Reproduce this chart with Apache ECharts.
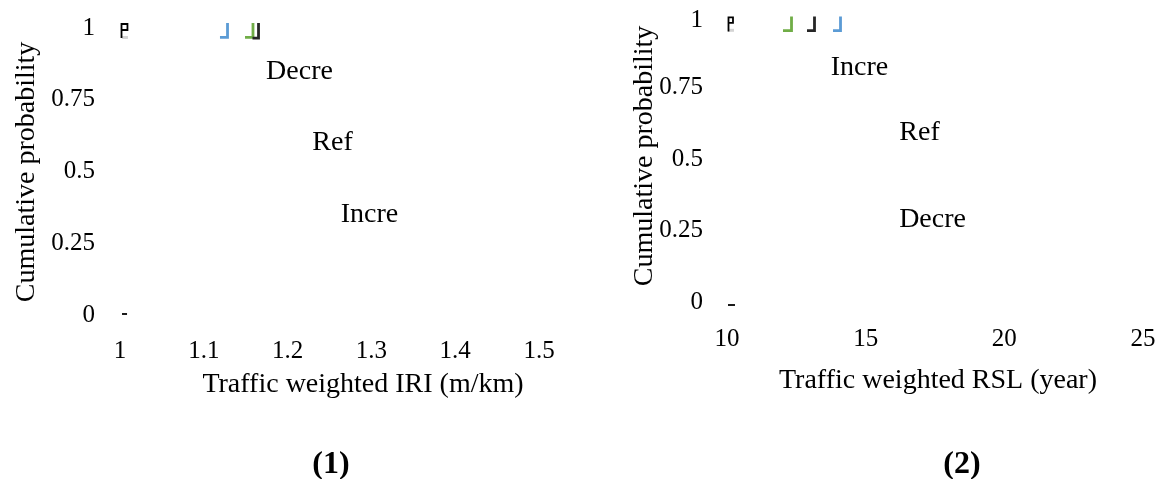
<!DOCTYPE html>
<html>
<head>
<meta charset="utf-8">
<script src="https://cdn.jsdelivr.net/npm/echarts@6/dist/echarts.min.js"></script>
<style>
  html, body { margin: 0; padding: 0; background: #ffffff; }
  #chart { width: 1170px; height: 479px; }
</style>
</head>
<body>
<div id="chart"></div>
<script>
// ---- Panel (1): traffic weighted IRI ----
const iriStart = [[1.0018, 0.965], [1.0018, 1.014], [1.0089, 1.014], [1.0089, 0.993], [1.0018, 0.993]];
const iriStartShade = [[1.0024, 0.967], [1.0095, 0.967]];
const iriZero = [[1.0024, 0.0035], [1.0084, 0.0035]];
const iriIncre = [[1.1193, 0.967], [1.1283, 0.967], [1.1283, 1.017]];
const iriRef = [[1.1492, 0.967], [1.1587, 0.967], [1.1587, 1.017]];
const iriDecre = [[1.1581, 0.965], [1.1653, 0.965], [1.1653, 1.017]];
const iriNotes = [
  { name: 'Decre', value: [1.2148, 0.847] },
  { name: 'Ref', value: [1.2542, 0.599] },
  { name: 'Incre', value: [1.2983, 0.348] }
];

// ---- Panel (2): traffic weighted RSL ----
const rslStart = [[10.054, 0.946], [10.054, 0.995], [10.216, 0.995], [10.216, 0.976], [10.054, 0.976]];
const rslStartShade = [[10.036, 0.95], [10.252, 0.95]];
const rslZero = [[10.036, -0.0105], [10.288, -0.0105]];
const rslRef = [[12.019, 0.949], [12.326, 0.949], [12.326, 0.998]];
const rslDecre = [[12.885, 0.949], [13.155, 0.949], [13.155, 0.998]];
const rslIncre = [[13.823, 0.949], [14.093, 0.949], [14.093, 0.998]];
const rslNotes = [
  { name: 'Incre', value: [14.796, 0.818] },
  { name: 'Ref', value: [16.96, 0.591] },
  { name: 'Decre', value: [17.43, 0.287] }
];

const probTicks = { min: 0, max: 1, interval: 0.25 };

const FONT = '"Liberation Serif", "Times New Roman", serif';
const BLUE = '#5b9bd5';
const GREEN = '#70ad47';
const DARK = '#262626';

function trace(data, color, idx, width) {
  return {
    type: 'line', data: data, xAxisIndex: idx, yAxisIndex: idx,
    symbol: 'none', clip: false, silent: true,
    lineStyle: { color: color, width: width || 2.8, cap: 'butt', join: 'miter' }
  };
}

function notes(data, idx) {
  return {
    type: 'scatter', data: data, xAxisIndex: idx, yAxisIndex: idx,
    symbolSize: 1, silent: true,
    itemStyle: { opacity: 0 },
    label: {
      show: true, position: [0, 0], align: 'center', verticalAlign: 'middle',
      formatter: '{b}', color: '#000000', opacity: 1,
      fontFamily: FONT, fontSize: 28, textBorderWidth: 0
    }
  };
}

const axisText = { color: '#000000', fontFamily: FONT, fontSize: 25 };

function valueAxis(extra) {
  return Object.assign({
    type: 'value',
    axisLine: { show: false }, axisTick: { show: false }, splitLine: { show: false }
  }, extra);
}

const chart = echarts.init(document.getElementById('chart'), null, { renderer: 'canvas' });
chart.setOption({
  backgroundColor: '#ffffff',
  animation: false,
  grid: [
    { left: 120, top: 28, width: 419, height: 287 },
    { left: 727, top: 16, width: 416, height: 286 }
  ],
  xAxis: [
    valueAxis({ gridIndex: 0, min: 1, max: 1.5, interval: 0.1,
      axisLabel: Object.assign({ margin: 24, formatter: v => String(+v.toFixed(1)) }, axisText) }),
    valueAxis({ gridIndex: 1, min: 10, max: 25, interval: 5,
      axisLabel: Object.assign({ margin: 25 }, axisText) })
  ],
  yAxis: [
    valueAxis(Object.assign({ gridIndex: 0, axisLabel: Object.assign({ margin: 25 }, axisText) }, probTicks)),
    valueAxis(Object.assign({ gridIndex: 1, axisLabel: Object.assign({
      margin: 24,
      formatter: v => (v === 1 ? '{top|1}' : String(v)),
      rich: { top: { color: '#000000', fontFamily: FONT, fontSize: 25, padding: [9, 0, 0, 0] } }
    }, axisText) }, probTicks))
  ],
  graphic: [
    { type: 'text', x: 363, y: 385, silent: true,
      style: { text: 'Traffic weighted IRI (m/km)', fill: '#000', font: '28px ' + FONT, textAlign: 'center', textVerticalAlign: 'middle' } },
    { type: 'text', x: 938, y: 381, silent: true,
      style: { text: 'Traffic weighted RSL (year)', fill: '#000', font: '28px ' + FONT, textAlign: 'center', textVerticalAlign: 'middle' } },
    { type: 'text', x: 27, y: 172, rotation: Math.PI / 2, silent: true,
      style: { text: 'Cumulative probability', fill: '#000', font: '28px ' + FONT, textAlign: 'center', textVerticalAlign: 'middle' } },
    { type: 'text', x: 645, y: 156, rotation: Math.PI / 2, silent: true,
      style: { text: 'Cumulative probability', fill: '#000', font: '28px ' + FONT, textAlign: 'center', textVerticalAlign: 'middle' } },
    { type: 'text', x: 331, y: 465, silent: true,
      style: { text: '(1)', fill: '#000', font: 'bold 32px ' + FONT, textAlign: 'center', textVerticalAlign: 'middle' } },
    { type: 'text', x: 962, y: 465, silent: true,
      style: { text: '(2)', fill: '#000', font: 'bold 32px ' + FONT, textAlign: 'center', textVerticalAlign: 'middle' } }
  ],
  series: [
    trace(iriStartShade, '#d4d4d4', 0, 3),
    trace(iriStart, '#000000', 0, 1.8),
    trace(iriZero, '#000000', 0, 1.8),
    trace(iriIncre, BLUE, 0),
    trace(iriRef, GREEN, 0),
    trace(iriDecre, DARK, 0),
    notes(iriNotes, 0),
    trace(rslStartShade, '#d4d4d4', 1, 3),
    trace(rslStart, '#000000', 1, 1.8),
    trace(rslZero, '#000000', 1, 1.8),
    trace(rslRef, GREEN, 1),
    trace(rslDecre, DARK, 1),
    trace(rslIncre, BLUE, 1),
    notes(rslNotes, 1)
  ]
});
</script>
</body>
</html>
